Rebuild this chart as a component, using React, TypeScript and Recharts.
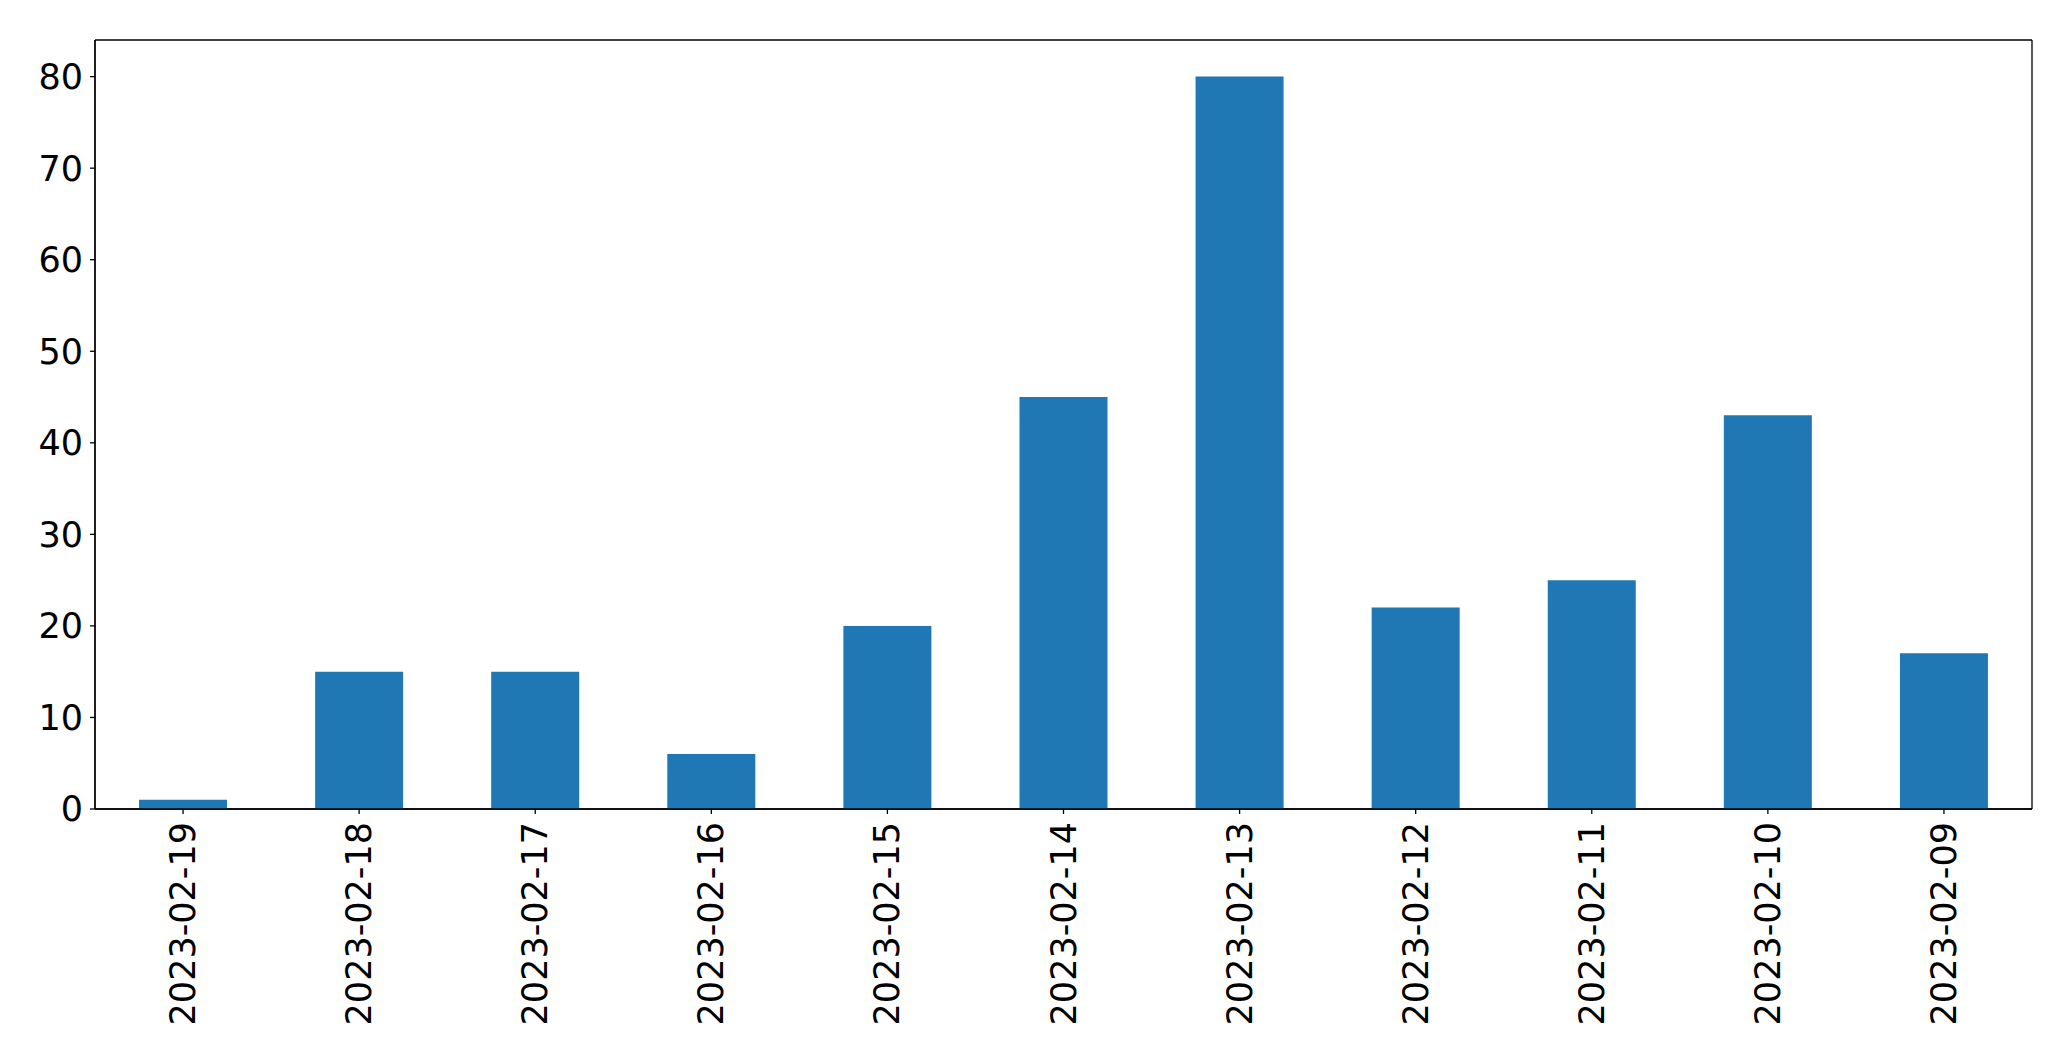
import { BarChart, Bar, XAxis, YAxis, CartesianGrid } from 'recharts';

const dates = [
  '2023-02-19', '2023-02-18', '2023-02-17', '2023-02-16', '2023-02-15', '2023-02-14',
  '2023-02-13', '2023-02-12', '2023-02-11', '2023-02-10', '2023-02-09',
];
const counts = [1, 15, 15, 6, 20, 45, 80, 22, 25, 43, 17];
const yTicks = [0, 10, 20, 30, 40, 50, 60, 70, 80];

const chartData = dates.map((d, i) => ({ date: d, count: counts[i] }));

const font = '"DejaVu Sans", sans-serif';

function DateTick(props: any) {
  const { x, y, payload } = props;
  return (
    <g transform={`translate(${x},${y})`}>
      <text
        transform="rotate(-90)"
        x={-3}
        y={0}
        textAnchor="end"
        dominantBaseline="central"
        fill="#000"
        fontSize={35}
        fontFamily={font}
      >
        {payload.value}
      </text>
    </g>
  );
}

export default function App() {
  return (
    <div style={{ position: 'absolute', left: 0, top: 0, background: '#fff' }}>
      <BarChart
        width={2071}
        height={1061}
        data={chartData}
        margin={{ top: 40, right: 39, bottom: 0, left: 0 }}
        barCategoryGap="25%"
      >
        {/* box around the plot area, like matplotlib spines */}
        <CartesianGrid
          stroke="#000"
          strokeWidth={1.3}
          horizontalCoordinatesGenerator={({ offset }: any) => [offset.top, offset.top + offset.height]}
          verticalCoordinatesGenerator={({ offset }: any) => [offset.left, offset.left + offset.width]}
        />
        <XAxis
          dataKey="date"
          height={252}
          interval={0}
          tick={<DateTick />}
          tickSize={5}
          tickMargin={5}
          axisLine={{ stroke: '#000', strokeWidth: 1.3 }}
          tickLine={{ stroke: '#000', strokeWidth: 1.3 }}
        />
        <YAxis
          width={95}
          domain={[0, 84]}
          ticks={yTicks}
          interval={0}
          tickSize={5}
          tickMargin={7}
          tick={{ fill: '#000', fontSize: 35, fontFamily: font }}
          axisLine={{ stroke: '#000', strokeWidth: 1.3 }}
          tickLine={{ stroke: '#000', strokeWidth: 1.3 }}
        />
        <Bar dataKey="count" fill="#1f77b4" isAnimationActive={false} />
      </BarChart>
    </div>
  );
}
